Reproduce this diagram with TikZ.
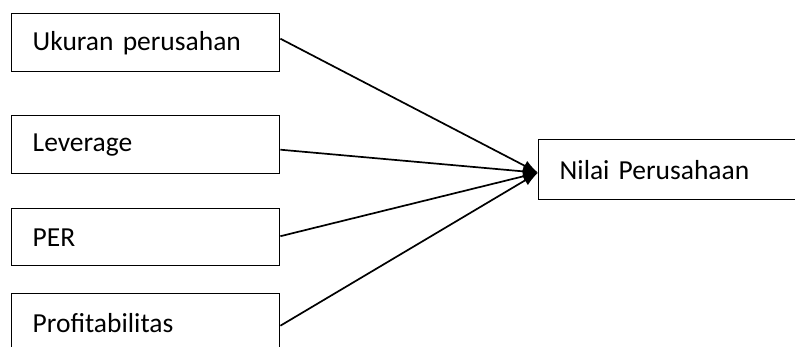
\documentclass[tikz,border=0pt]{standalone}
\usepackage{fontspec}
\setmainfont{Carlito}
\usetikzlibrary{arrows.meta}
\begin{document}
\begin{tikzpicture}[x=1pt,y=-1pt,
  box/.style={draw, line width=1.4pt, anchor=north west, rectangle,
    inner xsep=21pt, inner ysep=0pt, text width=226pt, align=left,
    minimum height=58pt, font=\fontsize{27.5}{32}\selectfont},
  conn/.style={line width=1.7pt, -{Latex[length=15pt,width=11pt]}}]
\useasboundingbox (0,0) rectangle (795,346);
\clip (0,0) rectangle (795,346);
\fill[white] (0,0) rectangle (795,346);
\node[box] (b1) at (11,13) {Ukuran perusahan};
\node[box] (b2) at (11,115) {Leverage};
\node[box, minimum height=57pt] (b3) at (11,208) {PER};
\node[box] (b4) at (11,293) {Profitabilitas};
\node[box, text width=218pt, minimum height=60pt] (nv) at (538,139) {Nilai Perusahaan};
\coordinate (tip) at ([yshift=-3pt]nv.west);
\draw[conn] ([yshift=4pt]b1.east) -- (tip);
\draw[conn] ([yshift=-5pt]b2.east) -- (tip);
\draw[conn] ([yshift=1pt]b3.east) -- (tip);
\draw[conn] ([yshift=-3pt]b4.east) -- (tip);
\end{tikzpicture}
\end{document}
